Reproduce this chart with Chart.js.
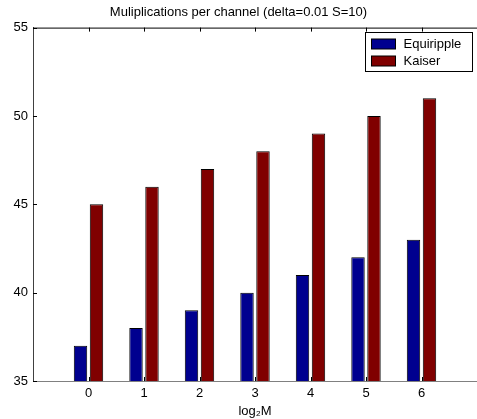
<!DOCTYPE html>
<html lang="en">
<head>
<meta charset="UTF-8">
<title>Muliplications per channel</title>
<style>
    body { margin: 0; background: #fff; }
    #wrap { width: 477px; height: 419px; }
</style>
<script src="https://cdn.jsdelivr.net/npm/chart.js"></script>
</head>
<body>
<div id="wrap"><canvas id="chart" width="477" height="419"></canvas></div>
<script>
    // values
    const categories = [0, 1, 2, 3, 4, 5, 6];
    const equiripple = [37, 38, 39, 40, 41, 42, 43];
    const kaiser = [45, 46, 47, 48, 49, 50, 51];
    const yTicks = [35, 40, 45, 50, 55];

    const FONT = "'Liberation Sans', Arial, sans-serif";

    function toPoints(values) {
        return values.map((v, i) => ({ x: categories[i], y: v }));
    }

    // top border, inward tick marks and the boxed legend inside the axes
    const matlabAxes = {
        id: 'matlabAxes',
        afterDraw(chart) {
            const ctx = chart.ctx;
            const area = chart.chartArea;
            const xs = chart.scales.x;
            const ys = chart.scales.y;
            ctx.save();
            ctx.lineWidth = 1;
            ctx.strokeStyle = '#000';
            ctx.beginPath();
            ctx.moveTo(area.left, area.top + 0.5);
            ctx.lineTo(area.right, area.top + 0.5);
            categories.forEach(c => {
                const px = Math.round(xs.getPixelForValue(c)) + 0.5;
                ctx.moveTo(px, area.top);
                ctx.lineTo(px, area.top + 4);
                ctx.moveTo(px, area.bottom);
                ctx.lineTo(px, area.bottom - 4);
            });
            yTicks.forEach(t => {
                const py = Math.round(ys.getPixelForValue(t)) + 0.5;
                ctx.moveTo(area.left, py);
                ctx.lineTo(area.left + 4, py);
            });
            ctx.stroke();

            // legend
            const bx = 365.5, by = 32.5, bw = 107, bh = 39;
            ctx.fillStyle = '#fff';
            ctx.fillRect(bx, by, bw, bh);
            ctx.strokeStyle = '#000';
            ctx.strokeRect(bx, by, bw, bh);
            ctx.font = '13px ' + FONT;
            ctx.textBaseline = 'middle';
            chart.data.datasets.forEach((ds, i) => {
                const sy = by + 6.5 + i * 17;
                ctx.fillStyle = ds.backgroundColor;
                ctx.fillRect(bx + 6, sy, 24, 10);
                ctx.strokeStyle = '#000';
                ctx.strokeRect(bx + 6, sy, 24, 10);
                ctx.fillStyle = '#000';
                ctx.fillText(ds.label, bx + 38, sy + 5);
            });
            ctx.restore();
        }
    };

    new Chart(document.getElementById('chart'), {
        type: 'bar',
        data: {
            datasets: [
                {
                    label: 'Equiripple',
                    data: toPoints(equiripple),
                    backgroundColor: '#00008f',
                    borderColor: '#000',
                    borderWidth: 1,
                    categoryPercentage: 0.576,
                    barPercentage: 0.84
                },
                {
                    label: 'Kaiser',
                    data: toPoints(kaiser),
                    backgroundColor: '#800000',
                    borderColor: '#000',
                    borderWidth: 1,
                    categoryPercentage: 0.576,
                    barPercentage: 0.84
                }
            ]
        },
        options: {
            responsive: false,
            animation: false,
            layout: { padding: { left: 0, right: 0, top: 0, bottom: 0 } },
            plugins: {
                legend: { display: false },
                tooltip: { enabled: false },
                title: {
                    display: true,
                    text: 'Muliplications per channel (delta=0.01 S=10)',
                    color: '#000',
                    font: { family: FONT, size: 13, weight: 'normal' },
                    padding: { top: 5, bottom: 7 }
                }
            },
            scales: {
                x: {
                    type: 'linear',
                    offset: false,
                    min: -1,
                    max: 7,
                    grid: { display: false, drawTicks: false, offset: false },
                    border: { display: true, color: '#808080', width: 1 },
                    ticks: {
                        stepSize: 1,
                        padding: 5,
                        color: '#000',
                        font: { family: FONT, size: 13 },
                        maxRotation: 0,
                        callback: v => categories.includes(v) ? String(v) : null
                    },
                    title: {
                        display: true,
                        text: 'log\u2082M',
                        color: '#000',
                        font: { family: FONT, size: 13 },
                        padding: { top: 3, bottom: 0 }
                    },
                    afterFit: s => { s.height = 38; }
                },
                y: {
                    min: 35,
                    max: 55,
                    grid: { display: false, drawTicks: false },
                    border: { display: true, color: '#404040', width: 1 },
                    ticks: {
                        stepSize: 5,
                        padding: 5,
                        color: '#000',
                        font: { family: FONT, size: 13 }
                    },
                    afterFit: s => { s.width = 33; }
                }
            }
        },
        plugins: [matlabAxes]
    });
</script>
</body>
</html>
